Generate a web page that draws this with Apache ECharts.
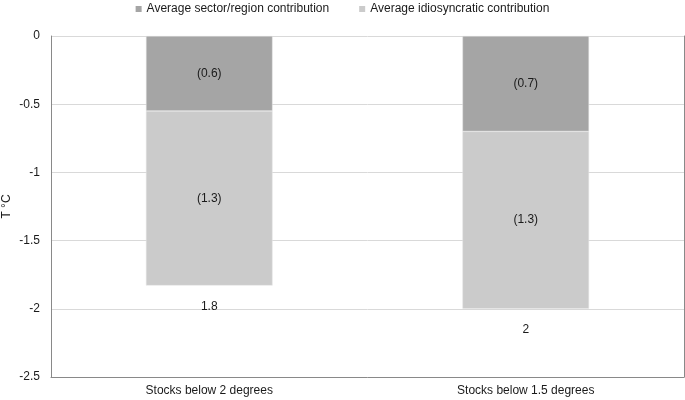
<!DOCTYPE html>
<html><head><meta charset="utf-8">
<script src="https://cdn.jsdelivr.net/npm/echarts@6/dist/echarts.min.js"></script>
<style>html,body{margin:0;padding:0;background:#fff}#c{width:685px;height:400px}</style>
</head><body><div id="c"></div>
<script>
const categories = ['Stocks below 2 degrees', 'Stocks below 1.5 degrees'];
const sectorValues = [-0.55, -0.70];
const idioValues = [-1.28, -1.30];
const totalValues = [-1.83, -2.00];
const seriesNames = ['Average sector/region contribution', 'Average idiosyncratic contribution'];
const yTicks = { min: -2.5, max: 0, interval: 0.5 };

const font = 'Liberation Sans, Arial, sans-serif';
const txt = '#1a1a1a';
const paren = p => '(' + Math.abs(p.value).toFixed(1) + ')';

const chart = echarts.init(document.getElementById('c'), null, { renderer: 'canvas' });
chart.setOption({
  animation: false,
  textStyle: { fontFamily: font },
  legend: {
    top: -2, left: 'center', itemWidth: 6, itemHeight: 6, itemGap: 30,
    icon: 'rect',
    itemStyle: { borderWidth: 0 },
    textStyle: { fontSize: 12, color: txt, fontFamily: font },
    data: seriesNames
  },
  grid: { left: 51, right: 1, top: 36, bottom: 23, outerBoundsMode: 'none', containLabel: false },
  xAxis: {
    type: 'category', data: categories, position: 'bottom',
    axisLine: { onZero: false, lineStyle: { color: '#898989', width: 1 } },
    axisTick: { show: false },
    axisLabel: { fontSize: 12, color: txt, margin: 8, fontFamily: font }
  },
  yAxis: [{
    type: 'value', min: yTicks.min, max: yTicks.max, interval: yTicks.interval,
    name: 'T °C', nameLocation: 'middle', nameGap: 38, nameRotate: 90, nameMoveOverlap: false,
    nameTextStyle: { fontSize: 12, color: txt, fontFamily: font },
    axisLine: { show: true, lineStyle: { color: '#898989' } },
    axisTick: { show: false },
    axisLabel: { fontSize: 12, color: txt, margin: 11, fontFamily: font },
    splitLine: { lineStyle: { color: '#d9d9d9' } }
  }, {
    type: 'value', position: 'right', min: yTicks.min, max: yTicks.max, interval: yTicks.interval,
    axisLine: { show: true, lineStyle: { color: '#898989' } },
    axisTick: { show: false }, axisLabel: { show: false }, splitLine: { show: false }
  }],
  series: [
    {
      name: seriesNames[0], type: 'bar', stack: 'a', data: sectorValues, barWidth: '40%',
      itemStyle: { color: '#a5a5a5', borderColor: '#e6e6e6', borderWidth: 0.5 },
      label: { show: true, position: 'inside', formatter: paren, color: txt, fontSize: 12, fontFamily: font }
    },
    {
      name: seriesNames[1], type: 'bar', stack: 'a', data: idioValues, barWidth: '40%',
      itemStyle: { color: '#cbcbcb', borderColor: '#e6e6e6', borderWidth: 0.5 },
      label: { show: true, position: 'inside', formatter: paren, color: txt, fontSize: 12, fontFamily: font }
    },
    {
      name: 'Total', type: 'scatter', data: totalValues, symbolSize: 0, silent: true,
      itemStyle: { opacity: 1 },
      label: {
        show: true, position: 'bottom', distance: 15, color: txt, opacity: 1, fontSize: 12, fontFamily: font,
        formatter: p => String(Number(Math.abs(p.value).toFixed(1)))
      }
    }
  ]
});
</script></body></html>
